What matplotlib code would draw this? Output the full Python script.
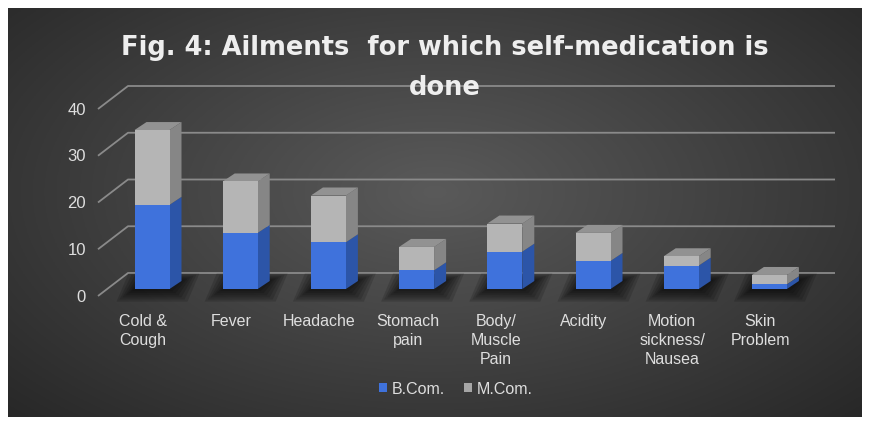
import matplotlib
matplotlib.use("Agg")
import matplotlib.pyplot as plt
from matplotlib.patches import Polygon, Patch
import numpy as np

# data
categories = ["Cold &\nCough", "Fever", "Headache", "Stomach\npain",
              "Body/\nMuscle\nPain", "Acidity", "Motion\nsickness/\nNausea",
              "Skin\nProblem"]
bcom = [18, 12, 10, 4, 8, 6, 5, 1]
mcom = [16, 11, 10, 5, 6, 6, 2, 2]
yticks = [0, 10, 20, 30, 40]
title = "Fig. 4: Ailments  for which self-medication is\ndone"

# colours
blue_front, blue_side = "#3f72dc", "#2c55a8"
gray_front, gray_side, gray_top = "#b5b5b5", "#868686", "#929292"
grid_col = "#8a8a8a"
text_col = "#dedede"

W, H = 869, 427
fig = plt.figure(figsize=(W / 100, H / 100), dpi=100)
fig.patch.set_facecolor("white")

# dark gradient background panel
bg = fig.add_axes([8 / W, 9 / H, 854 / W, 409 / H])
gx, gy = np.meshgrid(np.linspace(0, 1, 400), np.linspace(0, 1, 200))
r = np.sqrt(((gx - 0.5) / 0.75) ** 2 + ((gy - 0.45) / 0.85) ** 2)
v = np.clip(1 - r, 0, 1)
shade = (36 + (90 - 36) * v) / 255.0
bg.imshow(np.dstack([shade, shade, shade]), aspect="auto", extent=[0, 1, 0, 1])
bg.axis("off")

# main axes: one category = 88.2 px, one unit = 4.675 px, front plane zero at y=297 px
ax = fig.add_axes([0, 0, 1, 1])
ax.set_facecolor("none")
px_x = 88.2
px_y = 4.675
ax.set_xlim(-143 / px_x, (W - 143) / px_x)
ax.set_ylim(-(H - 297) / px_y, 297 / px_y)
ax.axis("off")

# depth offsets (data units)
back_dx, back_dy = 30 / px_x, 23 / px_y      # front plane -> back wall
bar_dx, bar_dy = 9 / px_x, 7 / px_y          # front plane -> bar front face
side_dx, side_dy = 12 / px_x, 8 / px_y       # bar thickness
bar_w = 35 / px_x

# gridlines on back wall + diagonal on the left wall
x_front = (98 - 143) / px_x
x_end = (835 - 143) / px_x
for t in yticks:
    ax.plot([x_front, x_front + back_dx, x_end], [t, t + back_dy, t + back_dy],
            color=grid_col, lw=1.3, zorder=1, solid_capstyle="butt")
    ax.text((86 - 143) / px_x, t, str(t), ha="right", va="center",
            color=text_col, fontsize=12, family=["Liberation Sans", "DejaVu Sans"])

xs = np.arange(len(categories))
base = bar_dy
x0 = xs + bar_dx - bar_w / 2

# soft shadows on the floor
for i in range(len(xs)):
    for k in range(6):
        grow = (6 - k) * 3 / px_x
        gy_ = (6 - k) * 0.45
        l, rgt = x0[i] - grow, x0[i] + bar_w + grow
        y0 = base - gy_
        y1 = base + side_dy + gy_ * 0.6
        ax.add_patch(Polygon([(l, y0), (rgt, y0), (rgt + side_dx, y1), (l + side_dx, y1)],
                             closed=True, facecolor="black", edgecolor="none",
                             alpha=0.14, zorder=2))

# front faces
ax.bar(x0, bcom, width=bar_w, bottom=base, align="edge", color=blue_front, zorder=4)
ax.bar(x0, mcom, width=bar_w, bottom=base + np.array(bcom), align="edge",
       color=gray_front, zorder=4)

# side and top faces
for i in range(len(xs)):
    x1 = x0[i] + bar_w
    b = bcom[i]
    m = mcom[i]
    ax.add_patch(Polygon([(x1, base), (x1 + side_dx, base + side_dy),
                          (x1 + side_dx, base + b + side_dy), (x1, base + b)],
                         closed=True, facecolor=blue_side, edgecolor="none", zorder=3))
    ax.add_patch(Polygon([(x1, base + b), (x1 + side_dx, base + b + side_dy),
                          (x1 + side_dx, base + b + m + side_dy), (x1, base + b + m)],
                         closed=True, facecolor=gray_side, edgecolor="none", zorder=3))
    top = base + b + m
    ax.add_patch(Polygon([(x0[i], top), (x1, top), (x1 + side_dx, top + side_dy),
                          (x0[i] + side_dx, top + side_dy)],
                         closed=True, facecolor=gray_top, edgecolor="none", zorder=3))

# category labels
for i, lab in enumerate(categories):
    ax.text(xs[i], -(314 - 297) / px_y, lab, ha="center", va="top", ma="center",
            color=text_col, fontsize=11.5, linespacing=1.32,
            family=["Liberation Sans", "DejaVu Sans"])

# title
fig.text(445 / W, 1 - 68 / H, title, ha="center", va="center", ma="center",
         color="#eeeeee", fontsize=18.5, fontweight="bold", linespacing=1.7,
         family=["DejaVu Sans"])

# legend
handles = [Patch(facecolor=blue_front, label="B.Com."),
           Patch(facecolor="#a6a6a6", label="M.Com.")]
leg = fig.legend(handles=handles, loc="center", bbox_to_anchor=(456 / W, 1 - 390 / H),
                 ncol=2, frameon=False, handlelength=0.5, handleheight=0.5,
                 handletextpad=0.3, columnspacing=1.2,
                 prop={"family": ["Liberation Sans", "DejaVu Sans"], "size": 11.5})
for t in leg.get_texts():
    t.set_color(text_col)

fig.savefig("out.png", dpi=100, facecolor=fig.get_facecolor())
